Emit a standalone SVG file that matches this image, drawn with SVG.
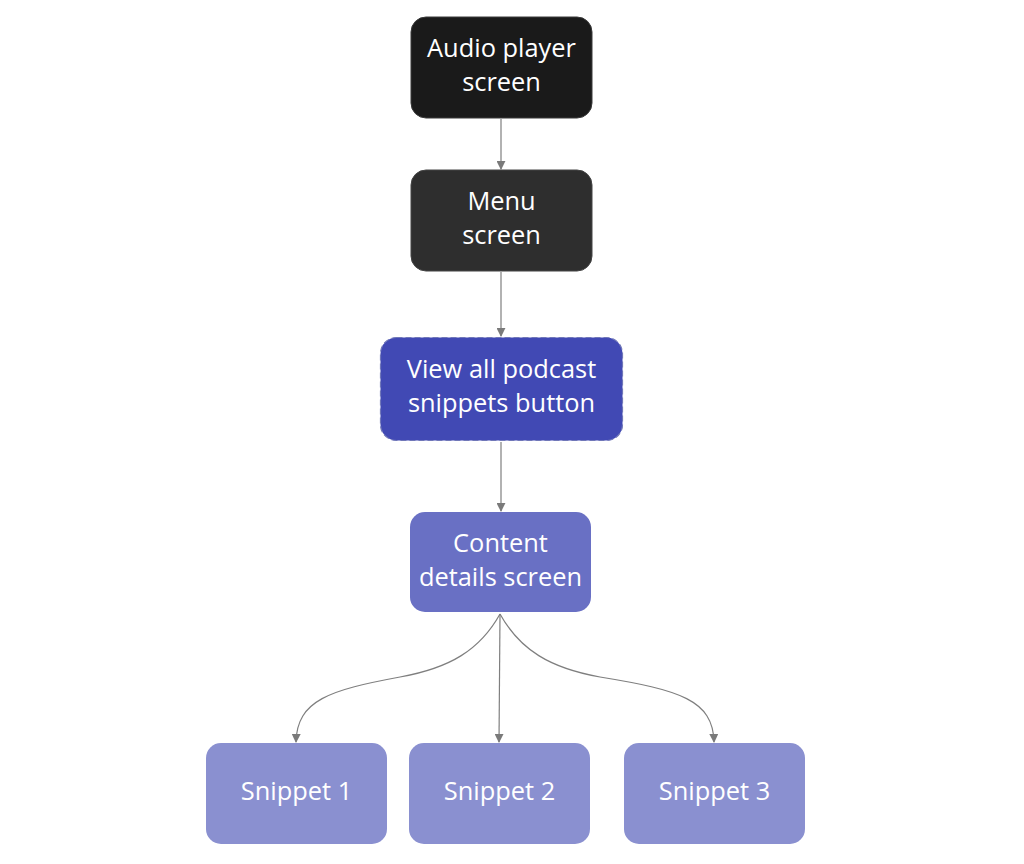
<svg xmlns="http://www.w3.org/2000/svg" width="1024" height="864" viewBox="0 0 1024 864">
<style>
.t{font-family:"Open Sans","Noto Sans","Liberation Sans",sans-serif;font-size:25.4px;fill:#ffffff;text-anchor:middle}
.c{fill:none;stroke:#7f7f7f;stroke-width:1.2}
</style>
<defs>
<marker id="ah" viewBox="0 0 10 10" refX="9" refY="5" markerWidth="9" markerHeight="9" markerUnits="userSpaceOnUse" orient="auto">
<path d="M0,0 L10,5 L0,10 Z" fill="#7a7a7a"/>
</marker>
</defs>
<rect width="1024" height="864" fill="#ffffff"/>
<g id="connectors">
<path class="c" d="M501,119 L501,169" marker-end="url(#ah)"/>
<path class="c" d="M501,272 L501,336" marker-end="url(#ah)"/>
<path class="c" d="M501,442 L501,511" marker-end="url(#ah)"/>
<path class="c" d="M500,614 C480,650 450,668 400,677 C330,690 297,700 296,742" marker-end="url(#ah)"/>
<path class="c" d="M500,614 L499,742" marker-end="url(#ah)"/>
<path class="c" d="M500,614 C520,650 550,668 600,677 C680,690 713,700 714,742" marker-end="url(#ah)"/>
</g>
<g id="audio-player">
<rect x="411" y="17" width="181" height="101" rx="15" fill="#1a1a1a" stroke="#3a3a3a" stroke-width="1"/>
<text class="t" x="501.5" y="57">Audio player</text>
<text class="t" x="501.5" y="91">screen</text>
</g>
<g id="menu">
<rect x="411" y="170" width="181" height="101" rx="15" fill="#2e2e2e" stroke="#444" stroke-width="1"/>
<text class="t" x="501.5" y="210">Menu</text>
<text class="t" x="501.5" y="244">screen</text>
</g>
<g id="view-all">
<rect x="380.5" y="337.5" width="242" height="103" rx="16" fill="#4149b4" stroke="#7077b8" stroke-width="1.2" stroke-dasharray="6,3"/>
<text class="t" x="501.5" y="378">View all podcast</text>
<text class="t" x="501.5" y="412">snippets button</text>
</g>
<g id="content-details">
<rect x="410" y="512" width="181" height="100" rx="15" fill="#6970c4"/>
<text class="t" x="500.5" y="552">Content</text>
<text class="t" x="500.5" y="586">details screen</text>
</g>
<g id="snippet1">
<rect x="206" y="743" width="181" height="101" rx="15" fill="#8a90d0"/>
<text class="t" x="296.5" y="800">Snippet 1</text>
</g>
<g id="snippet2">
<rect x="409" y="743" width="181" height="101" rx="15" fill="#8a90d0"/>
<text class="t" x="499.5" y="800">Snippet 2</text>
</g>
<g id="snippet3">
<rect x="624" y="743" width="181" height="101" rx="15" fill="#8a90d0"/>
<text class="t" x="714.5" y="800">Snippet 3</text>
</g>
</svg>
